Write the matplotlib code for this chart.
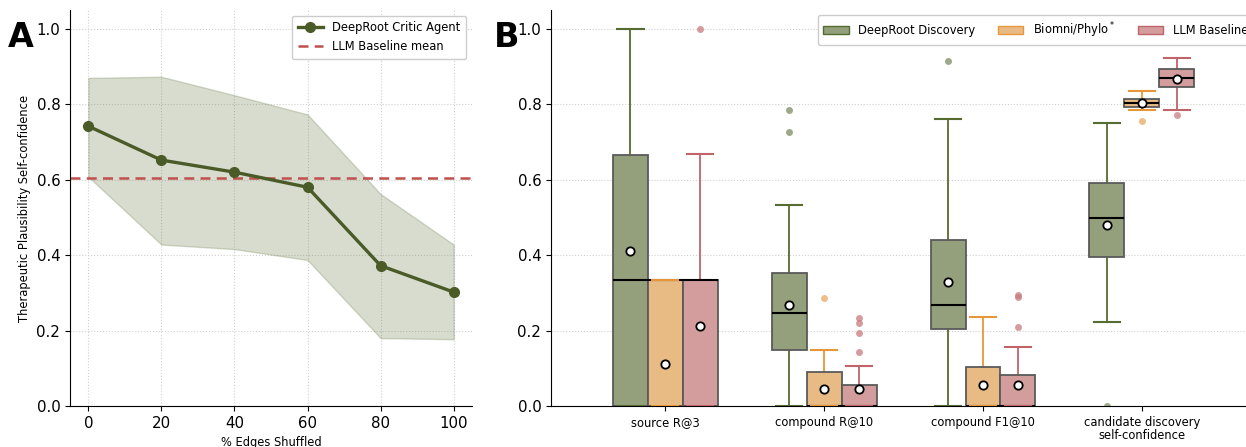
import matplotlib
matplotlib.use("Agg")
import matplotlib.pyplot as plt
from matplotlib.patches import Patch

# ---- panel A data ----
shuffle_pct = [0, 20, 40, 60, 80, 100]
critic_mean = [0.742, 0.652, 0.620, 0.580, 0.372, 0.302]
critic_upper = [0.870, 0.873, 0.824, 0.773, 0.562, 0.428]
critic_lower = [0.608, 0.428, 0.416, 0.387, 0.180, 0.177]
llm_baseline_mean = 0.604

# ---- panel B data (box summaries per metric) ----
metrics = ["source R@3", "compound R@10", "compound F1@10",
           "candidate discovery\nself-confidence"]
methods = ["DeepRoot Discovery", "Biomni/Phylo$^*$", "LLM Baseline"]

# each: (whislo, q1, med, q3, whishi, mean, fliers)
deeproot = [
    (0.0, 0.0, 0.333, 0.666, 1.0, 0.411, []),
    (0.0, 0.149, 0.247, 0.353, 0.533, 0.268, [0.785, 0.727]),
    (0.0, 0.204, 0.268, 0.440, 0.761, 0.329, [0.915]),
    (0.223, 0.395, 0.499, 0.592, 0.750, 0.480, [0.0]),
]
biomni = [
    (0.0, 0.0, 0.333, 0.333, 0.333, 0.111, []),
    (0.0, 0.0, 0.0, 0.090, 0.149, 0.045, [0.286]),
    (0.0, 0.0, 0.0, 0.103, 0.236, 0.056, []),
    (0.785, 0.793, 0.803, 0.814, 0.835, 0.804, [0.756]),
]
llm = [
    (0.0, 0.0, 0.333, 0.333, 0.667, 0.212, [1.0]),
    (0.0, 0.0, 0.0, 0.056, 0.107, 0.044, [0.233, 0.220, 0.194, 0.143]),
    (0.0, 0.0, 0.0, 0.082, 0.157, 0.056, [0.294, 0.290, 0.210]),
    (0.785, 0.846, 0.870, 0.894, 0.923, 0.868, [0.772]),
]

olive = "#556B2F"
line_col = "#4b5b28"
red = "#c0504d"
face_cols = ["#94a07c", "#e8bb84", "#d39d9d"]
line_cols = ["#556B2F", "#e8963a", "#c0646a"]
flier_cols = ["#7d8c62", "#e8a860", "#c87a7e"]
grid_kw = dict(ls=":", color="#d0d0d0", lw=0.8)

fig = plt.figure(figsize=(12.46, 4.47), dpi=100)

# ---------------- panel A ----------------
axA = fig.add_axes([0.0562, 0.0917, 0.3226, 0.886])
axA.fill_between(shuffle_pct, critic_lower, critic_upper, color=olive,
                 alpha=0.23, edgecolor=olive, linewidth=1)
axA.plot(shuffle_pct, critic_mean, "-o", color=line_col, lw=2.4, ms=7,
         label="DeepRoot Critic Agent", zorder=3)
axA.axhline(llm_baseline_mean, color=red, ls="--", lw=1.8, dashes=(4, 2.5),
            label="LLM Baseline mean", zorder=2)
axA.set_ylim(0, 1.05)
axA.set_xlim(-5, 105)
axA.set_xticks(shuffle_pct)
axA.set_yticks([0, 0.2, 0.4, 0.6, 0.8, 1.0])
axA.tick_params(labelsize=10.8)
axA.grid(True, **grid_kw)
axA.set_axisbelow(True)
axA.set_ylabel("Therapeutic Plausibility Self-confidence", fontsize=8.3)
axA.set_xlabel("% Edges Shuffled", fontsize=8.3, labelpad=4)
for s in ["top", "right"]:
    axA.spines[s].set_visible(False)
axA.legend(loc="upper right", fontsize=8.3, handlelength=2.2,
           borderpad=0.5, framealpha=1, edgecolor="#cccccc")
fig.text(0.006, 0.895, "A", fontsize=24, fontweight="bold")

# ---------------- panel B ----------------
axB = fig.add_axes([0.4422, 0.0917, 0.566, 0.886])
offsets = [-0.22, 0.0, 0.22]
bw = 0.22
for k, series in enumerate([deeproot, biomni, llm]):
    stats = []
    for vals in series:
        lo, q1, med, q3, hi, mean, fl = vals
        stats.append(dict(whislo=lo, q1=q1, med=med, q3=q3, whishi=hi,
                          mean=mean, fliers=fl))
    pos = [i + offsets[k] for i in range(len(metrics))]
    axB.bxp(stats, positions=pos, widths=bw, capwidths=bw * 0.75,
            patch_artist=True, showmeans=True, manage_ticks=False,
            boxprops=dict(facecolor=face_cols[k], edgecolor="#5a5a5a",
                          linewidth=1.3, zorder=2),
            medianprops=dict(color="black", lw=1.5, zorder=3),
            whiskerprops=dict(color=line_cols[k], lw=1.3, zorder=1),
            capprops=dict(color=line_cols[k], lw=1.5, zorder=3.5),
            flierprops=dict(marker="o", markerfacecolor=flier_cols[k],
                            markeredgecolor="none", markersize=5, alpha=0.75),
            meanprops=dict(marker="o", markerfacecolor="white",
                           markeredgecolor="black", markersize=6,
                           markeredgewidth=1.3, zorder=4))

axB.set_xlim(-0.72, 3.72)
axB.set_ylim(0, 1.05)
axB.set_xticks(range(len(metrics)))
axB.set_xticklabels(metrics, fontsize=8.3, linespacing=1.0)
axB.set_yticks([0, 0.2, 0.4, 0.6, 0.8, 1.0])
axB.tick_params(axis="y", labelsize=10.8)
axB.grid(True, axis="y", **grid_kw)
axB.set_axisbelow(True)
for s in ["top", "right"]:
    axB.spines[s].set_visible(False)
handles = [Patch(facecolor=face_cols[k], edgecolor=line_cols[k], label=methods[k])
           for k in range(3)]
fig.legend(handles=handles, loc="upper left", bbox_to_anchor=(818 / 1246, 1 - 15 / 447),
           borderaxespad=0, ncol=3, fontsize=8.3, framealpha=1, edgecolor="#cccccc",
           borderpad=0.45, columnspacing=2.0, handlelength=2.2)
fig.text(0.396, 0.895, "B", fontsize=24, fontweight="bold")

fig.savefig("out.png", dpi=100)
